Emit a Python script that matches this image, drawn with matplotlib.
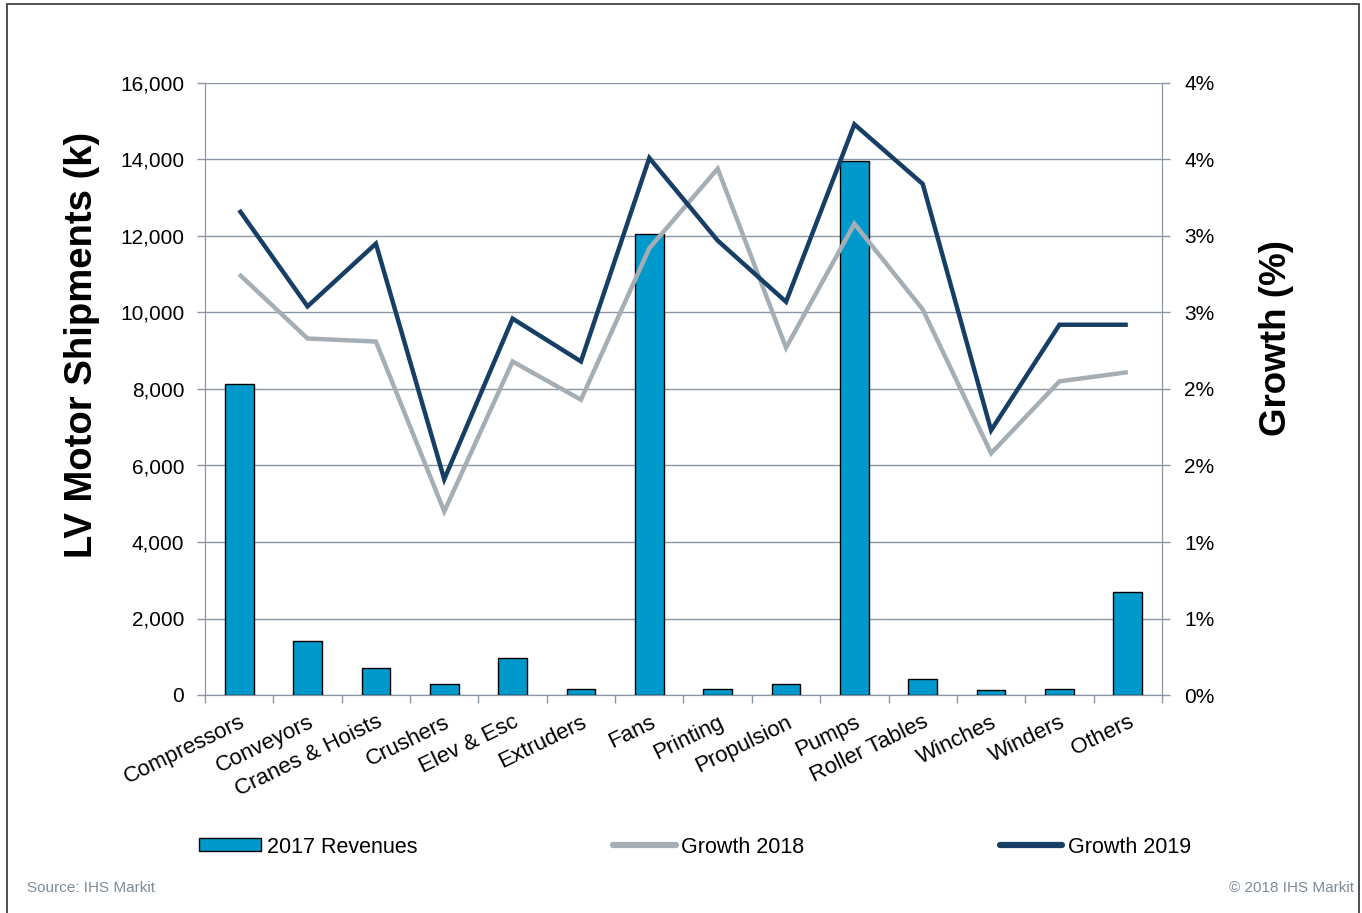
import numpy as np
import matplotlib
matplotlib.use('Agg')
import matplotlib.pyplot as plt
from matplotlib.ticker import FixedLocator, FuncFormatter, NullFormatter
from matplotlib.patches import Rectangle

plt.rcParams['font.family'] = ['Liberation Sans', 'DejaVu Sans']

# Data
categories = ['Compressors', 'Conveyors', 'Cranes & Hoists', 'Crushers', 'Elev & Esc',
              'Extruders', 'Fans', 'Printing', 'Propulsion', 'Pumps', 'Roller Tables',
              'Winches', 'Winders', 'Others']
revenues_2017 = [8130, 1410, 700, 290, 970, 160, 12050, 160, 290, 13960, 420, 130, 160, 2690]
growth_2018 = [2.75, 2.33, 2.31, 1.20, 2.18, 1.93, 2.92, 3.44, 2.27, 3.08, 2.52, 1.58, 2.05, 2.11]
growth_2019 = [3.17, 2.54, 2.95, 1.41, 2.46, 2.18, 3.51, 2.97, 2.57, 3.73, 3.34, 1.73, 2.42, 2.42]

bar_color = '#0099CC'
gray_line = '#A5AEB5'
dark_line = '#173F66'
axis_color = '#8A96A3'

W, H = 1362, 913
fig = plt.figure(figsize=(W / 100, H / 100), dpi=100)
ax = fig.add_axes([205 / W, 1 - 695 / H, (1162 - 205) / W, (695 - 83) / H])

x = np.arange(len(categories))
bars = ax.bar(x, revenues_2017, width=0.42, color=bar_color, edgecolor='black',
              linewidth=1.0, label='2017 Revenues', zorder=3)

ax.set_xlim(-0.5, len(categories) - 0.5)
ax.set_ylim(0, 16000)
ax.set_yticks(np.arange(0, 16001, 2000))
ax.yaxis.set_major_formatter(FuncFormatter(lambda v, p: f'{int(v):,}'))
ax.grid(axis='y', color=axis_color, linewidth=1.0, zorder=0)
ax.set_axisbelow(True)

# category labels on minor ticks, boundary ticks on major
ax.xaxis.set_major_locator(FixedLocator(np.arange(-0.5, len(categories), 1.0)))
ax.xaxis.set_major_formatter(NullFormatter())
ax.xaxis.set_minor_locator(FixedLocator(x))
ax.set_xticklabels(categories, minor=True, rotation=26, ha='right',
                   rotation_mode='anchor', fontsize=16)
ax.tick_params(axis='x', which='minor', length=0, pad=12)
ax.tick_params(axis='x', which='major', length=6, color=axis_color, width=1)
ax.tick_params(axis='y', length=6, color=axis_color, width=1, labelsize=15, pad=9)

ax.spines['top'].set_visible(False)
for s in ['left', 'right', 'bottom']:
    ax.spines[s].set_color(axis_color)

ax2 = ax.twinx()
l1, = ax2.plot(x, growth_2018, color=gray_line, linewidth=3.2, label='Growth 2018',
               solid_joinstyle='miter', solid_capstyle='butt')
l2, = ax2.plot(x, growth_2019, color=dark_line, linewidth=3.2, label='Growth 2019',
               solid_joinstyle='miter', solid_capstyle='butt')
ax2.set_ylim(0, 4)
ax2.set_yticks(np.arange(0, 4.01, 0.5))
ax2.yaxis.set_major_formatter(FuncFormatter(lambda v, p: f'{int(np.floor(v + 0.5 + 1e-9))}%'))
ax2.tick_params(axis='y', length=6, color=axis_color, width=1, labelsize=15, pad=10)
ax2.spines['top'].set_visible(False)
for s in ['left', 'right', 'bottom']:
    ax2.spines[s].set_color(axis_color)

fig.text(82 / W, 1 - 345 / H, 'LV Motor Shipments (k)', rotation=90, ha='center',
         va='center', fontsize=27.5, fontweight='bold')
fig.text(1277 / W, 1 - 338 / H, 'Growth (%)', rotation=90, ha='center',
         va='center', fontsize=26.5, fontweight='bold')

leg = fig.legend([bars, l1, l2], ['2017 Revenues', 'Growth 2018', 'Growth 2019'],
                 loc='center', bbox_to_anchor=(695 / W, 1 - 847 / H), ncol=3,
                 frameon=False, fontsize=15.5, handlelength=2.9, handletextpad=0.25,
                 columnspacing=9.1, handleheight=0.55)
for h in leg.get_lines():
    h.set_linewidth(4.5)
    h.set_solid_capstyle('round')

fig.text(27 / W, 1 - 888 / H, 'Source: IHS Markit', fontsize=11, color='#7F8A99',
         ha='left', va='center')
fig.text(1354 / W, 1 - 888 / H, '\u00a9 2018 IHS Markit', fontsize=11, color='#7F8A99',
         ha='right', va='center')

fig.patches.append(Rectangle((7 / W, -0.01), (1359 - 7) / W, 1.01 - 4 / H,
                             transform=fig.transFigure, fill=False,
                             edgecolor='#333333', linewidth=1.2))

fig.savefig('out.png', dpi=100)
